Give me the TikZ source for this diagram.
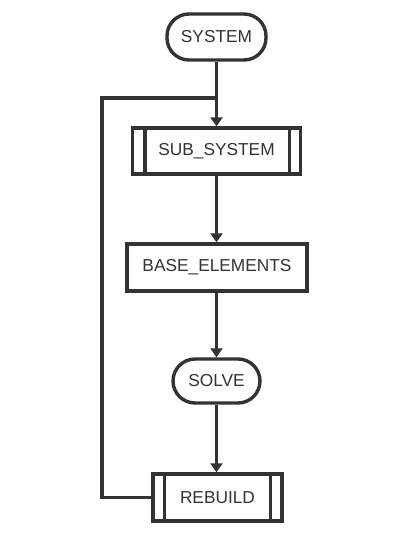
\documentclass[tikz,border=0pt]{standalone}
\usepackage{fontspec}
\setmainfont{Liberation Sans}
\usetikzlibrary{arrows.meta}
\definecolor{ink}{HTML}{333333}
\tikzset{
  base/.style={draw=ink, line width=3.4pt, fill=white, text=ink, font=\fontsize{17.3}{19}\selectfont, inner sep=0pt},
  term/.style={base, rounded corners=22pt},
  proc/.style={base},
  conn/.style={draw=ink, line width=3.4pt, -{Triangle[length=9pt,width=12pt]}},
  line/.style={draw=ink, line width=3.4pt}
}
\begin{document}
\begin{tikzpicture}[x=1pt,y=-1pt]
\useasboundingbox (0,0) rectangle (415,541);
% nodes
\node[term, minimum width=99pt, minimum height=46pt] (sys) at (216.5,37) {SYSTEM};
\node[proc, minimum width=168pt, minimum height=46pt] (sub) at (216.5,151) {SUB\_SYSTEM};
\node[proc, minimum width=180pt, minimum height=47pt] (base) at (217,267.5) {BASE\_ELEMENTS};
\node[term, minimum width=87pt, minimum height=44pt] (solve) at (216.5,381) {SOLVE};
\node[proc, minimum width=129pt, minimum height=47pt] (reb) at (217.5,497.5) {REBUILD};
% inner bars
\draw[line] ([xshift=14pt]sub.north west) -- ([xshift=14pt]sub.south west);
\draw[line] ([xshift=-13pt]sub.north east) -- ([xshift=-13pt]sub.south east);
\draw[line] ([xshift=13pt]reb.north west) -- ([xshift=13pt]reb.south west);
\draw[line] ([xshift=-13pt]reb.north east) -- ([xshift=-13pt]reb.south east);
% connectors
\coordinate (j) at (sys.south |- 0,98);
\draw[conn] (sys.south) -- (sub.north);
\draw[conn] (sub.south) -- (sub.south |- base.north);
\draw[conn] (base.south -| solve.north) -- (solve.north);
\draw[conn] (solve.south) -- (solve.south |- reb.north);
\draw[line] (reb.west) -| (102,98) -- (j);
\end{tikzpicture}
\end{document}
